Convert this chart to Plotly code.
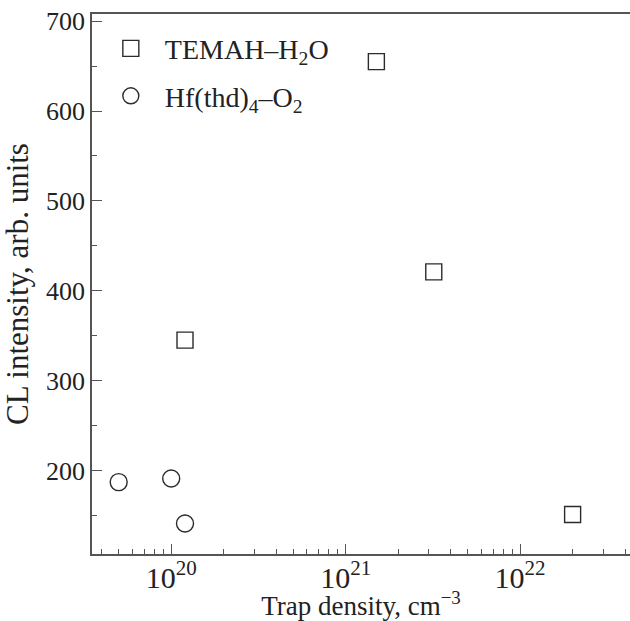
import plotly.graph_objects as go

# Data
temah_x = [1.2e20, 1.5e21, 3.2e21, 2.0e22]
temah_y = [345, 655, 421, 151]
hf_x = [5.0e19, 1.0e20, 1.2e20]
hf_y = [187, 191, 141]

series_names = ["\u00a0\u00a0TEMAH–H<sub>2</sub>O", "\u00a0\u00a0Hf(thd)<sub>4</sub>–O<sub>2</sub>"]
x_title = "Trap density, cm<sup>−3</sup>"
y_title = "CL intensity, arb. units"

ink = "#2b2b2b"
font_family = "Liberation Serif, Times New Roman, serif"

fig = go.Figure()
fig.add_trace(go.Scatter(
    x=temah_x, y=temah_y, mode="markers", name=series_names[0],
    legendgroup="a",
    marker=dict(symbol="square-open", size=16, color=ink, line=dict(width=1.4, color=ink)),
))
fig.add_trace(go.Scatter(
    x=hf_x, y=hf_y, mode="markers", name=series_names[1],
    legendgroup="b",
    marker=dict(symbol="circle-open", size=17, color=ink, line=dict(width=1.4, color=ink)),
))

fig.update_layout(
    width=630, height=621,
    margin=dict(l=92, r=0, t=14, b=67),
    paper_bgcolor="white", plot_bgcolor="white",
    font=dict(family=font_family, size=25, color="#222222"),
    showlegend=True,
    legend=dict(x=0.035, y=0.982, xanchor="left", yanchor="top",
                bgcolor="rgba(0,0,0,0)", font=dict(size=28),
                tracegroupgap=8, traceorder="grouped"),
    xaxis=dict(
        type="log", range=[19.546, 22.63], dtick=1, exponentformat="power",
        showgrid=False, zeroline=False, automargin=False,
        showline=True, linecolor="#555555", linewidth=1.5, mirror=True,
        ticks="inside", ticklen=10, tickwidth=1.3, tickcolor="#555555",
        minor=dict(dtick="D1", ticks="inside", ticklen=5, tickwidth=1.3, tickcolor="#555555", showgrid=False),
        tickfont=dict(size=24), ticklabelstandoff=-3,
        title=dict(text=x_title, font=dict(size=27)),
    ),
    yaxis=dict(
        range=[107, 708], dtick=100, tick0=0,
        showgrid=False, zeroline=False, automargin=False,
        showline=True, linecolor="#555555", linewidth=1.5,
        ticks="inside", ticklen=10, tickwidth=1.3, tickcolor="#555555",
        minor=dict(dtick=50, ticks="inside", ticklen=5, tickwidth=1.3, tickcolor="#555555", showgrid=False),
        tickfont=dict(size=26),
        title=dict(text=y_title, font=dict(size=31), standoff=9),
    ),
)

fig.write_html("out.html", config={"displayModeBar": False},
               post_script="document.body.style.margin='0px';")
